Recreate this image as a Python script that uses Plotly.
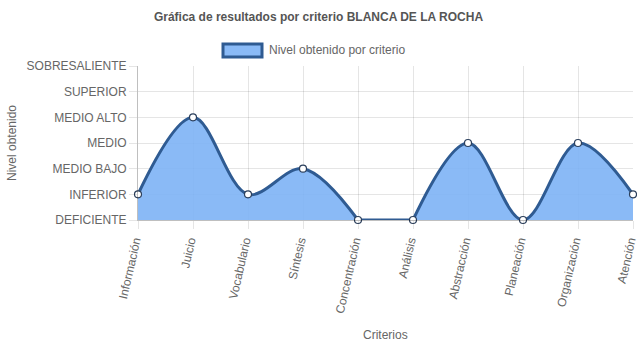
import plotly.graph_objects as go

criterios = ["Información", "Juicio", "Vocabulario", "Síntesis", "Concentración",
             "Análisis", "Abstracción", "Planeación", "Organización", "Atención"]
niveles = ["DEFICIENTE", "INFERIOR", "MEDIO BAJO", "MEDIO", "MEDIO ALTO",
           "SUPERIOR", "SOBRESALIENTE"]
valores = [1, 4, 1, 2, 0, 0, 3, 0, 3, 1]

line_color = "#2f5b92"
fill_color = "rgba(125,179,245,0.9)"
grid = "rgba(0,0,0,0.1)"
txt = "#666666"
font = "Liberation Sans, Arial, Helvetica, sans-serif"

fig = go.Figure()

# Build segments: flat runs (equal consecutive values) are drawn straight,
# everything else as a smooth spline (mimics Chart.js capped bezier curves).
n = len(valores)
segments = []
start = 0
i = 0
while i < n - 1:
    if valores[i] == valores[i + 1]:
        if i > start:
            segments.append((start, i, "spline"))
        j = i
        while j < n - 1 and valores[j] == valores[j + 1]:
            j += 1
        segments.append((i, j, "linear"))
        start = j
        i = j
    else:
        i += 1
if start < n - 1:
    segments.append((start, n - 1, "spline"))

for a, b, shape in segments:
    fig.add_trace(go.Scatter(
        x=criterios[a:b + 1], y=valores[a:b + 1], mode="lines",
        line=dict(color=line_color, width=3, shape=shape, smoothing=1.0),
        fill="tozeroy", fillcolor=fill_color,
        showlegend=False, hoverinfo="skip",
    ))

fig.add_trace(go.Scatter(
    x=criterios, y=valores, mode="markers",
    marker=dict(size=7, color="white", line=dict(color="#2b3f5c", width=1.2)),
    cliponaxis=False, showlegend=False,
    name="Nivel obtenido por criterio",
))

fig.update_layout(
    width=637, height=348,
    margin=dict(l=138, r=4, t=66, b=128, autoexpand=False),
    paper_bgcolor="white", plot_bgcolor="white",
    font=dict(family=font, size=12, color=txt),
    title=dict(text="<b>Gráfica de resultados por criterio BLANCA DE LA ROCHA</b>",
               x=0.5, xref="container", xanchor="center",
               y=1 - 17 / 348, yanchor="middle",
               font=dict(size=12, color="#555555")),
    xaxis=dict(
        type="category", range=[0, 9], tickangle=-77, automargin=False,
        ticklabelshift=-3,
        showgrid=True, gridcolor=grid, gridwidth=1,
        ticks="outside", ticklen=8, tickcolor=grid,
        showline=True, linecolor="rgba(0,0,0,0.25)", linewidth=1,
        tickfont=dict(size=12, color=txt), zeroline=False,
    ),
    yaxis=dict(
        range=[0, 6], tickvals=list(range(len(niveles))), ticktext=niveles,
        automargin=False,
        showgrid=True, gridcolor=grid, gridwidth=1,
        ticks="outside", ticklen=8, tickcolor=grid,
        showline=True, linecolor="rgba(0,0,0,0.25)", linewidth=1,
        zeroline=False, tickfont=dict(size=12, color=txt),
    ),
)

# axis titles
fig.add_annotation(text="Criterios", xref="paper", yref="paper",
                   x=0.5, y=(220 - 335) / 154, xanchor="center", yanchor="middle",
                   showarrow=False, font=dict(size=12, color=txt))
fig.add_annotation(text="Nivel obtenido", xref="paper", yref="paper",
                   x=(12 - 138) / 495, y=(220 - 143) / 154, xanchor="center", yanchor="middle",
                   textangle=-90, showarrow=False, font=dict(size=12, color=txt))

# legend (Chart.js style box + label)
fig.add_shape(type="rect", xref="paper", yref="paper",
              x0=(223 - 138) / 495, x1=(262 - 138) / 495,
              y0=(220 - 57) / 154, y1=(220 - 44) / 154,
              fillcolor=fill_color, line=dict(color=line_color, width=3))
fig.add_annotation(text="Nivel obtenido por criterio", xref="paper", yref="paper",
                   x=(267 - 138) / 495, y=(220 - 50) / 154, xanchor="left", yanchor="middle",
                   showarrow=False, font=dict(size=12, color=txt))

fig.write_html("out.html")
